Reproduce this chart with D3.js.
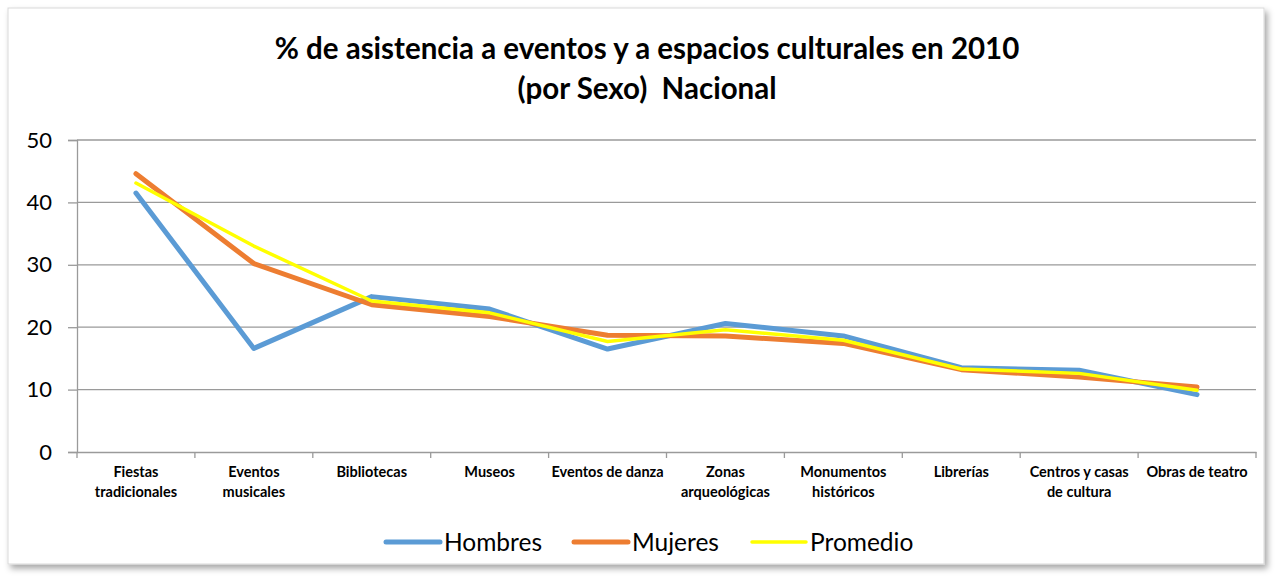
<!doctype html>
<html>
<head>
  <meta charset="utf-8">
  <script src="https://d3js.org/d3.v7.min.js"></script>
  <style>
    body { margin: 0; background: #fff; }
    text { font-family: Lato, "Open Sans", sans-serif; fill: #000; }
  </style>
</head>
<body>
  <script>

    // data
    var categories = [
      ["Fiestas", "tradicionales"],
      ["Eventos", "musicales"],
      ["Bibliotecas"],
      ["Museos"],
      ["Eventos de danza"],
      ["Zonas", "arqueológicas"],
      ["Monumentos", "históricos"],
      ["Librerías"],
      ["Centros y casas", "de cultura"],
      ["Obras de teatro"]
    ];
    var hombres  = [41.5, 16.6, 24.9, 22.9, 16.5, 20.6, 18.6, 13.5, 13.1, 9.2];
    var mujeres  = [44.6, 30.2, 23.6, 21.7, 18.7, 18.6, 17.4, 13.2, 12.0, 10.4];
    var promedio = [43.1, 33.0, 24.2, 22.3, 17.7, 19.6, 17.9, 13.3, 12.6, 9.9];
    var yTicks = [0, 10, 20, 30, 40, 50];

    var series = [
      { name: "Hombres",  values: hombres,  color: "#5b9bd5", width: 5 },
      { name: "Mujeres",  values: mujeres,  color: "#ed7d31", width: 5 },
      { name: "Promedio", values: promedio, color: "#ffff00", width: 3.5 }
    ];

    var W = 1276, H = 578;
    var svg = d3.select("body").append("svg")
        .attr("width", W)
        .attr("height", H);

    // shadow for the chart frame
    var defs = svg.append("defs");
    var f = defs.append("filter").attr("id", "shadow")
        .attr("x", "-5%").attr("y", "-5%").attr("width", "110%").attr("height", "115%");
    f.append("feDropShadow")
        .attr("dx", 3).attr("dy", 4).attr("stdDeviation", 3)
        .attr("flood-color", "#000").attr("flood-opacity", 0.35);

    svg.append("rect")
        .attr("x", 8).attr("y", 8)
        .attr("width", 1256).attr("height", 556)
        .attr("fill", "#fff")
        .attr("stroke", "#d9d9d9")
        .attr("filter", "url(#shadow)");

    // title
    var title = svg.append("text")
        .attr("text-anchor", "middle")
        .attr("font-weight", "bold")
        .attr("font-size", 29.5);
    title.append("tspan").attr("x", 647).attr("y", 59)
        .text("% de asistencia a eventos y a espacios culturales en 2010");
    title.append("tspan").attr("x", 647).attr("y", 99)
        .attr("xml:space", "preserve")
        .text("(por Sexo)  Nacional");

    // scales
    var x = d3.scaleBand()
        .domain(d3.range(categories.length))
        .range([77, 1256]);
    var y = d3.scaleLinear()
        .domain([0, 50])
        .range([452, 140]);

    // gridlines
    svg.append("g")
        .selectAll("line")
        .data(yTicks.filter(function (d) { return d > 0; }))
        .enter().append("line")
        .attr("x1", 77).attr("x2", 1256)
        .attr("y1", function (d) { return y(d); })
        .attr("y2", function (d) { return y(d); })
        .attr("stroke", "#9a9a9a")
        .attr("stroke-width", 1.3);

    // y axis
    var yAxis = svg.append("g")
        .attr("transform", "translate(77,0)")
        .call(d3.axisLeft(y).tickValues(yTicks).tickSize(9).tickPadding(16));
    yAxis.select(".domain").attr("stroke", "#9a9a9a").attr("stroke-width", 1.3);
    yAxis.selectAll(".tick line").attr("stroke", "#9a9a9a").attr("stroke-width", 1.3);
    yAxis.selectAll(".tick text")
        .attr("font-size", 22)
        .attr("font-family", "Lato, sans-serif")
        .attr("fill", "#000");

    // x axis
    var xAxis = svg.append("g")
        .attr("transform", "translate(0,452)")
        .call(d3.axisBottom(x).tickSize(0).tickFormat(""));
    xAxis.select(".domain").attr("stroke", "#9a9a9a").attr("stroke-width", 1.3);

    // category ticks between bands
    svg.append("g")
        .selectAll("line")
        .data(d3.range(categories.length + 1))
        .enter().append("line")
        .attr("x1", function (d) { return 77 + d * x.step(); })
        .attr("x2", function (d) { return 77 + d * x.step(); })
        .attr("y1", 452).attr("y2", 458)
        .attr("stroke", "#9a9a9a")
        .attr("stroke-width", 1.3);

    // category labels
    var labels = svg.append("g")
        .selectAll("text")
        .data(categories)
        .enter().append("text")
        .attr("text-anchor", "middle")
        .attr("font-weight", "bold")
        .attr("font-size", 14.5);
    labels.each(function (d, i) {
      var t = d3.select(this);
      d.forEach(function (line, j) {
        t.append("tspan")
            .attr("x", x(i) + x.bandwidth() / 2)
            .attr("y", 477 + j * 20)
            .text(line);
      });
    });

    // lines
    var line = d3.line()
        .x(function (d, i) { return x(i) + x.bandwidth() / 2; })
        .y(function (d) { return y(d); });

    svg.append("g")
        .selectAll("path")
        .data(series)
        .enter().append("path")
        .attr("d", function (d) { return line(d.values); })
        .attr("fill", "none")
        .attr("stroke", function (d) { return d.color; })
        .attr("stroke-width", function (d) { return d.width; })
        .attr("stroke-linejoin", "round")
        .attr("stroke-linecap", "round");

    // legend
    var legendX = [386, 574, 752];
    var legend = svg.append("g")
        .selectAll("g")
        .data(series)
        .enter().append("g")
        .attr("transform", function (d, i) { return "translate(" + legendX[i] + ",542)"; });
    legend.append("line")
        .attr("x1", 0).attr("x2", 54)
        .attr("stroke", function (d) { return d.color; })
        .attr("stroke-width", function (d) { return d.width; })
        .attr("stroke-linecap", "round");
    legend.append("text")
        .attr("x", 58)
        .attr("dy", "0.35em")
        .attr("font-size", 24.5)
        .text(function (d) { return d.name; });

  </script>
</body>
</html>
